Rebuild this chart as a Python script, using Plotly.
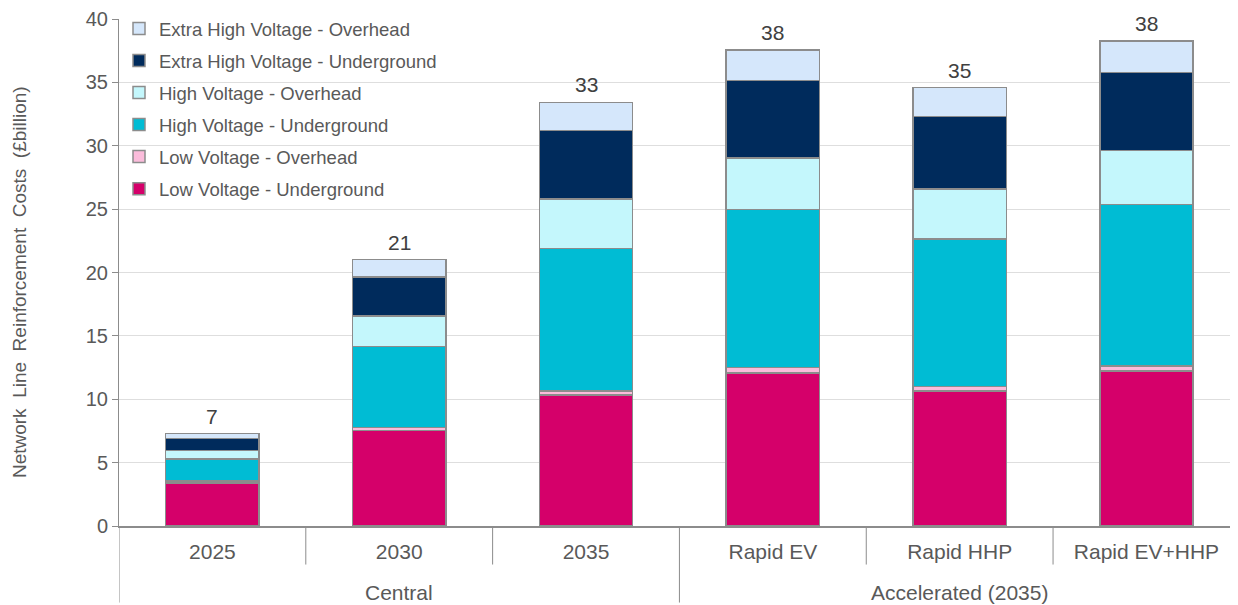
import plotly.graph_objects as go

categories = ["2025", "2030", "2035", "Rapid EV", "Rapid HHP", "Rapid EV+HHP"]
groups = ["Central", "Accelerated (2035)"]
group_centers = [1, 4]

lv_ug = [3.41, 7.52, 10.32, 12.07, 10.66, 12.21]
lv_oh = [0.13, 0.26, 0.34, 0.43, 0.35, 0.43]
hv_ug = [1.76, 6.40, 11.23, 12.46, 11.65, 12.74]
hv_oh = [0.66, 2.37, 3.92, 4.07, 3.94, 4.24]
ehv_ug = [0.93, 3.10, 5.40, 6.11, 5.70, 6.15]
ehv_oh = [0.40, 1.37, 2.21, 2.43, 2.29, 2.50]

series = [
    ("Low Voltage - Underground", lv_ug, "#D5006A"),
    ("Low Voltage - Overhead", lv_oh, "#FBBCDB"),
    ("High Voltage - Underground", hv_ug, "#00BCD4"),
    ("High Voltage - Overhead", hv_oh, "#C4F7FC"),
    ("Extra High Voltage - Underground", ehv_ug, "#002B5C"),
    ("Extra High Voltage - Overhead", ehv_oh, "#D5E7FB"),
]

FONT = "Liberation Sans, Arial, sans-serif"
GREY = "#595959"
LINE = "#8c8c8c"

fig = go.Figure()
n = len(series)
for i, (name, vals, col) in enumerate(series):
    fig.add_trace(go.Bar(
        x=categories, y=vals, name=name, legendgroup=f"g{i}",
        legendrank=(n - i) * 100,
        marker=dict(color=col, line=dict(color=LINE, width=1.5)),
        width=0.5, hoverinfo="name+y",
    ))

totals = [sum(v) for v in zip(*[s[1] for s in series])]
for idx, t in enumerate(totals):
    fig.add_annotation(x=idx, xref="x", y=t, yref="y", text=f"{round(t):.0f}",
                       showarrow=False, yanchor="bottom", yshift=4,
                       font=dict(family=FONT, size=21, color="#404040"))

# category separators
for b in [0.5, 1.5, 3.5, 4.5]:
    fig.add_shape(type="line", xref="x", yref="paper", x0=b, x1=b, y0=0, y1=-0.076,
                  line=dict(color=LINE, width=1))
for b in [-0.5, 2.5]:
    fig.add_shape(type="line", xref="x", yref="paper", x0=b, x1=b, y0=0, y1=-0.151,
                  line=dict(color=LINE, width=1))

for g, xc in zip(groups, group_centers):
    fig.add_annotation(x=xc, xref="x", y=-0.131, yref="paper", text=g, showarrow=False,
                       yanchor="middle", font=dict(family=FONT, size=21, color=GREY))

fig.add_annotation(x=-0.0894, xref="paper", y=0.481, yref="paper",
                   text="Network\u00a0 Line\u00a0 Reinforcement\u00a0 Costs\u00a0 (£billion)",
                   textangle=-90, showarrow=False, xanchor="center", yanchor="middle",
                   font=dict(family=FONT, size=19, color=GREY))

fig.update_layout(
    width=1230, height=597,
    margin=dict(l=111, r=0, t=11, b=79),
    barmode="stack",
    plot_bgcolor="white", paper_bgcolor="white",
    font=dict(family=FONT, color=GREY),
    legend=dict(
        traceorder="grouped", x=0.0, xanchor="left", y=1.018, yanchor="top",
        font=dict(family=FONT, size=18.5, color=GREY), tracegroupgap=5,
        bgcolor="rgba(0,0,0,0)", itemwidth=30,
    ),
    xaxis=dict(
        type="category", range=[-0.5, 5.49], showline=True, linecolor=LINE, linewidth=1.5,
        ticks="", showgrid=False, tickfont=dict(family=FONT, size=21, color=GREY),
        ticklabelstandoff=6,
    ),
    yaxis=dict(
        range=[0, 40], dtick=5, showline=True, linecolor=LINE, linewidth=1,
        ticks="outside", ticklen=6, tickcolor=LINE, gridcolor="#dedede", gridwidth=1,
        zeroline=False, tickfont=dict(family=FONT, size=20, color=GREY),
    ),
)

fig.write_html("out.html")
